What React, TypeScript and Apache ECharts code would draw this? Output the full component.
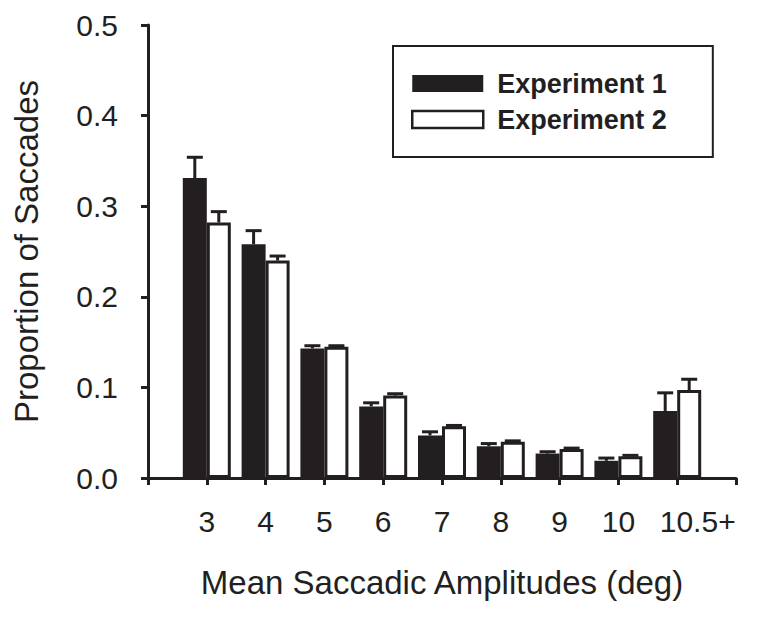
import React, { useEffect, useRef } from "react";
import * as echarts from "echarts";

const categories = ["3", "4", "5", "6", "7", "8", "9", "10", "10.5+"];
const exp1 = [0.331, 0.258, 0.143, 0.079, 0.047, 0.035, 0.027, 0.019, 0.074];
const exp1ErrTop = [0.354, 0.273, 0.146, 0.083, 0.051, 0.038, 0.029, 0.022, 0.094];
const exp2 = [0.282, 0.24, 0.145, 0.091, 0.057, 0.04, 0.032, 0.024, 0.097];
const exp2ErrTop = [0.294, 0.245, 0.146, 0.093, 0.058, 0.041, 0.033, 0.025, 0.109];
const yTicks = [0, 0.1, 0.2, 0.3, 0.4, 0.5];

const INK = "#231f20";
const FONT = "'Liberation Sans', Arial, Helvetica, sans-serif";

export default function App() {
  const ref = useRef<HTMLDivElement>(null);
  useEffect(() => {
    document.body.style.margin = "0";
    if (!ref.current) return;
    const chart = echarts.init(ref.current, undefined, { renderer: "svg" });
    const axisCats = ["", ...categories, ""];
    const pad = (arr: number[]) => ["-", ...arr, "-"];
    const errData = (vals: number[], tops: number[]) =>
      vals.map((v, i) => [i + 1, v, tops[i]]);
    const makeErr = (offset: number) => (params: any, api: any) => {
      const i = api.value(0);
      const p1 = api.coord([i, api.value(1)]);
      const p2 = api.coord([i, api.value(2)]);
      const x = p1[0] + offset;
      const st = { stroke: INK, lineWidth: 3 };
      return {
        type: "group",
        children: [
          { type: "line", shape: { x1: x, y1: p1[1], x2: x, y2: p2[1] }, style: st },
          { type: "line", shape: { x1: x - 8, y1: p2[1], x2: x + 8, y2: p2[1] }, style: st },
        ],
      };
    };
    chart.setOption({
      animation: false,
      backgroundColor: "#fff",
      grid: { left: 148, right: 25, top: 25, bottom: 140 },
      legend: {
        orient: "vertical",
        left: 393,
        top: 46,
        padding: [24, 46, 24, 18],
        borderColor: INK,
        borderWidth: 2,
        itemWidth: 71,
        itemHeight: 17,
        itemGap: 9,
        textStyle: {
          fontFamily: FONT,
          fontWeight: "bold",
          fontSize: 27,
          color: INK,
          padding: [0, 0, 0, 9],
        },
        data: [
          { name: "Experiment 1", icon: "rect", itemStyle: { color: INK, borderWidth: 0 } },
          {
            name: "Experiment 2",
            icon: "rect",
            itemStyle: { color: "#fff", borderColor: INK, borderWidth: 2.5 },
          },
        ],
      },
      xAxis: {
        type: "category",
        data: axisCats,
        boundaryGap: false,
        name: "Mean Saccadic Amplitudes (deg)",
        nameLocation: "middle",
        nameGap: 88,
        nameTextStyle: { fontFamily: FONT, fontSize: 33, color: INK },
        axisLine: { lineStyle: { color: INK, width: 3 } },
        axisTick: { show: true, length: 7, lineStyle: { color: INK, width: 3 }, interval: 0 },
        axisLabel: {
          interval: 0,
          margin: 28,
          fontFamily: FONT,
          fontSize: 30,
          color: INK,
          formatter: (v: string) => (v.endsWith("+") ? "{p|" + v + "}" : v),
          rich: {
            p: { fontFamily: FONT, fontSize: 30, color: INK, padding: [0, 0, 0, 41] },
          },
        },
        splitLine: { show: false },
      },
      yAxis: {
        type: "value",
        min: yTicks[0],
        max: yTicks[yTicks.length - 1],
        interval: 0.1,
        name: "Proportion of Saccades",
        nameLocation: "middle",
        nameGap: 105,
        nameTextStyle: { fontFamily: FONT, fontSize: 33, color: INK },
        axisLine: { show: true, lineStyle: { color: INK, width: 3 } },
        axisTick: { show: true, length: 7, lineStyle: { color: INK, width: 3 } },
        axisLabel: {
          margin: 30,
          fontFamily: FONT,
          fontSize: 30,
          color: INK,
          formatter: (v: number) => v.toFixed(1),
        },
        splitLine: { show: false },
      },
      series: [
        {
          name: "Experiment 1",
          type: "bar",
          data: pad(exp1),
          barWidth: 24,
          barGap: "0%",
          itemStyle: { color: INK },
        },
        {
          name: "Experiment 2",
          type: "bar",
          data: pad(exp2),
          barWidth: 24,
          barGap: "0%",
          itemStyle: { color: "#fff", borderColor: INK, borderWidth: 3 },
        },
        {
          name: "err1",
          type: "custom",
          data: errData(exp1, exp1ErrTop),
          encode: { x: 0, y: [1, 2] },
          renderItem: makeErr(-12),
          z: 1,
        },
        {
          name: "err2",
          type: "custom",
          data: errData(exp2, exp2ErrTop),
          encode: { x: 0, y: [1, 2] },
          renderItem: makeErr(12),
          z: 1,
        },
      ],
    });
    return () => chart.dispose();
  }, []);
  return <div ref={ref} style={{ width: 761, height: 618 }} />;
}
